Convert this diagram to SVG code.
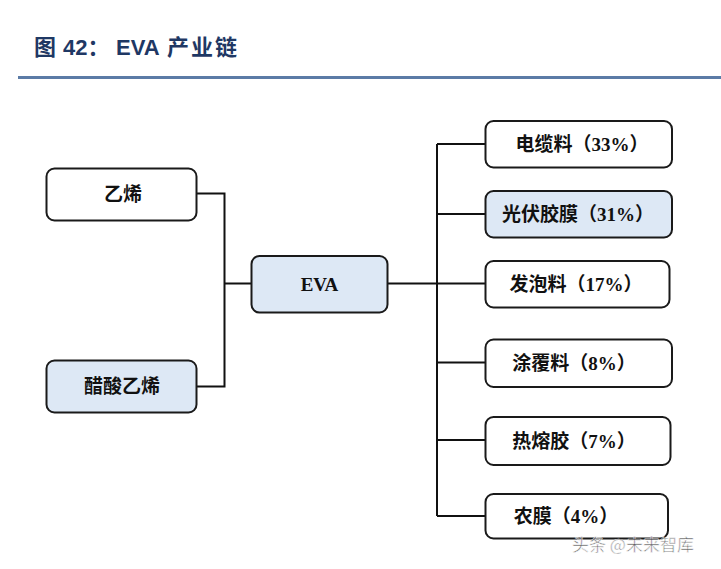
<svg xmlns="http://www.w3.org/2000/svg" width="721" height="569" viewBox="0 0 721 569">
<style>
.box{stroke:#1a1a1a;stroke-width:2;}
.w{fill:#ffffff;}
.b{fill:#dde8f5;}
.t{font-family:"Liberation Serif","Noto Sans CJK SC",serif;font-size:19px;font-weight:bold;fill:#111;text-anchor:middle;dominant-baseline:central;}
.c{fill:none;stroke:#111;stroke-width:2;}
.ti{font-family:"Liberation Sans","Noto Sans CJK SC",sans-serif;font-size:22px;font-weight:bold;fill:#1f3864;}
</style>
<rect width="721" height="569" fill="#ffffff"/>
<text class="ti" y="55"><tspan x="34">图</tspan><tspan x="63">42：</tspan><tspan x="116">EVA</tspan><tspan x="167" letter-spacing="2">产业链</tspan></text>
<line x1="18" y1="77.5" x2="721" y2="77.5" stroke="#5b7ba6" stroke-width="3"/>
<g id="connectors">
<path class="c" d="M197,193.5 H224.5 V386.5 H197 M224.5,283.5 H251"/>
<path class="c" d="M388,283.5 H485 M437,144 V516 M437,144 H485 M437,214 H485 M437,362.5 H485 M437,440 H485 M437,516 H485"/>
</g>
<g id="n-ethylene"><rect class="box w" x="46.5" y="168.5" width="150" height="52" rx="8"/><text class="t" x="123" y="194">乙烯</text></g>
<g id="n-vac"><rect class="box b" x="46.5" y="360.5" width="150" height="52" rx="8"/><text class="t" x="122" y="386">醋酸乙烯</text></g>
<g id="n-eva"><rect class="box b" x="251.5" y="256" width="136" height="56.5" rx="8"/><text class="t" x="319.5" y="284">EVA</text></g>
<g id="n-cable"><rect class="box w" x="485.5" y="121" width="186.5" height="46.5" rx="8"/><text class="t" x="582" y="144">电缆料（33%）</text></g>
<g id="n-pv"><rect class="box b" x="485.5" y="191" width="186.5" height="46.5" rx="8"/><text class="t" x="578" y="214">光伏胶膜（31%）</text></g>
<g id="n-foam"><rect class="box w" x="485.5" y="261" width="184" height="46.5" rx="8"/><text class="t" x="576" y="284">发泡料（17%）</text></g>
<g id="n-coat"><rect class="box w" x="485.5" y="339.5" width="186.5" height="47.5" rx="8"/><text class="t" x="574" y="363">涂覆料（8%）</text></g>
<g id="n-hotmelt"><rect class="box w" x="485.5" y="417" width="185" height="48" rx="8"/><text class="t" x="574" y="441">热熔胶（7%）</text></g>
<g id="n-film"><rect class="box w" x="485.5" y="494" width="182.5" height="44.5" rx="8"/><text class="t" x="566" y="516">农膜（4%）</text></g>
<text x="572" y="551" font-family="'Noto Sans CJK SC',sans-serif" font-size="17" fill="#444" stroke="#ffffff" stroke-width="0.6" opacity="0.85">头条 @未来智库</text>
</svg>
